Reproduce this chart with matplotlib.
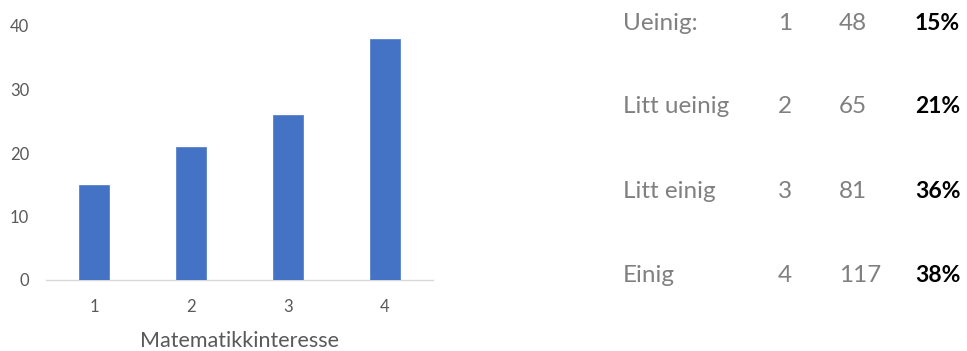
import matplotlib
matplotlib.use("Agg")
import matplotlib.pyplot as plt

# Bar chart data
categories = [1, 2, 3, 4]
values = [15, 21, 26, 38]
y_ticks = [0, 10, 20, 30, 40]
x_label = "Matematikkinteresse"

# Summary table beside the chart
row_labels = ["Ueinig:", "Litt ueinig", "Litt einig", "Einig"]
row_codes = [1, 2, 3, 4]
row_counts = [48, 65, 81, 117]
row_percents = [15, 21, 36, 38]

W, H = 967, 351
DPI = 100
FONT = "Lato"
GRAY = "#595959"
TEXT_GRAY = "#808080"

fig = plt.figure(figsize=(W / DPI, H / DPI), dpi=DPI)
fig.patch.set_facecolor("white")

# Axes placed in pixel units
left, right, top, base = 46, 433, 26, 280
ax = fig.add_axes([left / W, (H - base) / H, (right - left) / W, (base - top) / H])

ax.bar(categories, values, width=0.31, color="#4472C4", edgecolor="#5b84cc", linewidth=0.6, zorder=3)
ax.set_xlim(0.5, 4.5)
ax.set_ylim(0, 40)
ax.set_yticks(y_ticks)
ax.set_xticks(categories)
ax.set_xticklabels([str(c) for c in categories], fontfamily=FONT, fontsize=12, color=GRAY)
ax.set_yticklabels([str(t) for t in y_ticks], fontfamily=FONT, fontsize=12, color=GRAY)
ax.tick_params(axis="both", length=0)
ax.tick_params(axis="y", pad=12)
ax.tick_params(axis="x", pad=14)

for side in ["top", "right", "left"]:
    ax.spines[side].set_visible(False)
ax.spines["bottom"].set_color("#d9d9d9")
ax.spines["bottom"].set_linewidth(1.0)

ax.set_xlabel(x_label, fontfamily=FONT, fontsize=15.5, color=GRAY, labelpad=11)

# Table text, positioned in pixel coordinates
row_y = [23, 107, 191, 276]
def px(x, y):
    return x / W, 1 - y / H

for lbl, code, cnt, pct, y in zip(row_labels, row_codes, row_counts, row_percents, row_y):
    fig.text(*px(623, y), lbl, fontfamily=FONT, fontsize=17.5, color=TEXT_GRAY, va="center", ha="left")
    fig.text(*px(785, y), str(code), fontfamily=FONT, fontsize=17.5, color=TEXT_GRAY, va="center", ha="center")
    fig.text(*px(839, y), str(cnt), fontfamily=FONT, fontsize=17.5, color=TEXT_GRAY, va="center", ha="left")
    fig.text(*px(915, y), f"{pct}%", fontfamily=FONT, fontsize=16.5, color="black",
             fontweight="bold", va="center", ha="left")

fig.savefig("out.png", dpi=DPI, facecolor="white")
